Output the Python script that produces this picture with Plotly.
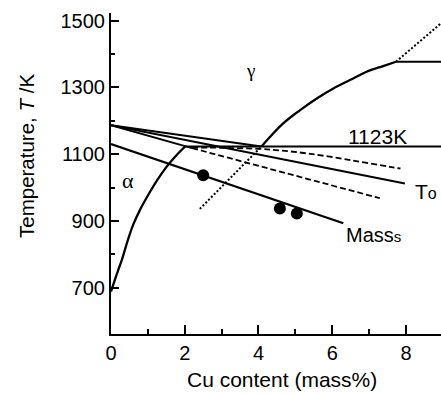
import plotly.graph_objects as go

# ---- data ----
alpha_x = [0, 0.1, 0.2, 0.3, 0.45, 0.6, 0.8, 1.0, 1.24, 1.5, 1.75, 2.01]
alpha_T = [688, 722, 754, 785, 840, 888, 936, 976, 1020, 1061, 1094, 1123]

gamma_x = [4.08, 4.67, 5.13, 5.58, 6.03, 6.48, 6.93, 7.38, 7.73]
gamma_T = [1123, 1192, 1232, 1267, 1297, 1322, 1347, 1364, 1377]

iso1123_x = [2.01, 8.95]
iso1123_T = [1123, 1123]

isotop_x = [7.73, 8.95]
isotop_T = [1377, 1377]

dotlow_x = [2.41, 4.08]
dotlow_T = [936, 1123]

dothigh_x = [7.73, 8.95]
dothigh_T = [1377, 1492]

linea_x = [0, 4.08]
linea_T = [1187, 1123]

t0_x = [0, 7.97]
t0_T = [1187, 1012]

meta_x = [0, 2.2]
meta_T = [1187, 1118]

dashlow_x = [2.2, 7.29]
dashlow_T = [1118, 968]

dashup_x = [2.2, 3.0, 4.0, 4.6, 5.4, 6.5, 7.56, 7.85]
dashup_T = [1120, 1119, 1116, 1111, 1101, 1082, 1062, 1057]

ms_x = [0, 6.3]
ms_T = [1130, 893]

pts_x = [2.50, 4.58, 5.04]
pts_T = [1037, 937, 922]

x_ticks = [0, 2, 4, 6, 8]
x_minor = [1, 3, 5, 7]
y_ticks = [700, 900, 1100, 1300, 1500]
y_minor = [800, 1000, 1200, 1400]

fig = go.Figure()

def add_line(x, y, width=2, dash="solid", shape="linear"):
    fig.add_trace(go.Scatter(x=x, y=y, mode="lines",
                             line=dict(color="black", width=width, dash=dash, shape=shape),
                             showlegend=False, hoverinfo="skip"))

add_line(alpha_x, alpha_T, 2.3, shape="spline")
add_line(gamma_x, gamma_T, 2.3, shape="spline")
add_line(iso1123_x, iso1123_T, 2)
add_line(isotop_x, isotop_T, 2)
add_line(dotlow_x, dotlow_T, 2, dash="2px,2px")
add_line(dothigh_x, dothigh_T, 2, dash="2px,2px")
add_line(linea_x, linea_T, 2)
add_line(t0_x, t0_T, 2)
add_line(meta_x, meta_T, 2)
add_line(dashlow_x, dashlow_T, 1.8, dash="6px,3px")
add_line(dashup_x, dashup_T, 1.8, dash="6px,3px", shape="spline")
add_line(ms_x, ms_T, 2.3)

fig.add_trace(go.Scatter(x=pts_x, y=pts_T, mode="markers",
                         marker=dict(color="black", size=12),
                         showlegend=False, hoverinfo="skip"))

font_sans = "Liberation Sans, Arial, Helvetica, sans-serif"

annots = [
    dict(x=3.78, y=1351, text="γ", font=dict(family="Liberation Serif, serif", size=19)),
    dict(x=0.46, y=1022, text="α", font=dict(family="Liberation Serif, serif", size=22)),
    dict(x=7.23, y=1154, text="1123K", font=dict(family=font_sans, size=21)),
    dict(x=8.55, y=989, text="T<span style='font-size:16px'>o</span>", font=dict(family=font_sans, size=21)),
    dict(x=7.12, y=857, text="Mass<span style='font-size:15px'>s</span>", font=dict(family=font_sans, size=20)),
]
for a in annots:
    fig.add_annotation(xref="x", yref="y", showarrow=False, xanchor="center", yanchor="middle", **a)

fig.add_annotation(xref="paper", yref="paper", x=-0.2576, y=0.5545, showarrow=False,
                   text="Temperature, <i>T</i> /K", textangle=-90,
                   xanchor="center", yanchor="middle",
                   font=dict(family=font_sans, size=20.5, color="black"))
fig.add_annotation(xref="paper", yref="paper", x=0.517, y=-0.143, showarrow=False,
                   text="Cu content (mass%)",
                   xanchor="center", yanchor="middle",
                   font=dict(family=font_sans, size=21, color="black"))

fig.update_xaxes(range=[0, 8.95], tickvals=x_ticks, ticks="inside", ticklen=9, tickwidth=1.6,
                 tickcolor="black", showline=True, linewidth=2.2, linecolor="black",
                 showgrid=False, zeroline=False,
                 tickfont=dict(family=font_sans, size=20, color="black"),
                 minor=dict(tickvals=x_minor, ticks="inside", ticklen=5, tickwidth=1.6, tickcolor="black"))
fig.update_yaxes(range=[561, 1523], tickvals=y_ticks, ticks="inside", ticklen=8, tickwidth=1.6,
                 tickcolor="black", showline=True, linewidth=2.2, linecolor="black",
                 showgrid=False, zeroline=False,
                 tickfont=dict(family=font_sans, size=20, color="black"),
                 minor=dict(tickvals=y_minor, ticks="inside", ticklen=4, tickwidth=1.6, tickcolor="black"))

fig.update_layout(width=441, height=394, autosize=False,
                  margin=dict(l=111, r=0, t=13, b=60),
                  paper_bgcolor="white", plot_bgcolor="white",
                  font=dict(family=font_sans, color="black"))

fig.write_html("out.html", config={"displayModeBar": False},
               post_script="document.body.style.margin='0';document.body.style.padding='0';")
